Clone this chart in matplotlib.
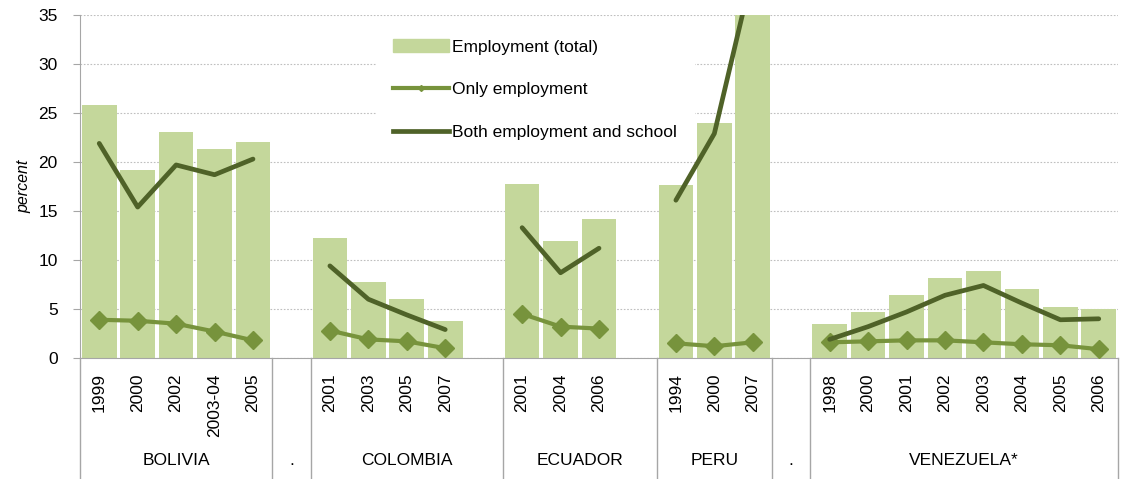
import numpy as np
import matplotlib.pyplot as plt
import matplotlib.transforms as mtransforms
from matplotlib.lines import Line2D
from matplotlib.patches import Patch

plt.rcParams['font.family'] = ['Liberation Sans', 'DejaVu Sans']

nan = np.nan

# groups along the x axis ('.' = empty spacer column)
group_names = ['BOLIVIA', '.', 'COLOMBIA', 'ECUADOR', 'PERU', '.', 'VENEZUELA*']
group_sizes = [5, 1, 5, 4, 3, 1, 8]

years = ['1999', '2000', '2002', '2003-04', '2005', '',
         '2001', '2003', '2005', '2007', '',
         '2001', '2004', '2006', '',
         '1994', '2000', '2007', '',
         '1998', '2000', '2001', '2002', '2003', '2004', '2005', '2006']

total_emp = [25.8, 19.2, 23.1, 21.3, 22.0, nan,
             12.2, 7.8, 6.0, 3.8, nan,
             17.8, 11.9, 14.2, nan,
             17.7, 24.0, 41.0, nan,
             3.5, 4.7, 6.4, 8.2, 8.9, 7.0, 5.2, 5.0]
only_emp = [3.9, 3.8, 3.5, 2.7, 1.8, nan,
            2.8, 1.9, 1.7, 1.0, nan,
            4.5, 3.2, 3.0, nan,
            1.5, 1.2, 1.6, nan,
            1.6, 1.7, 1.8, 1.8, 1.6, 1.4, 1.3, 0.9]
both_emp = [21.9, 15.4, 19.7, 18.7, 20.3, nan,
            9.4, 6.0, 4.4, 2.9, nan,
            13.3, 8.7, 11.2, nan,
            16.1, 22.9, 39.5, nan,
            1.9, 3.2, 4.7, 6.4, 7.4, 5.6, 3.9, 4.0]

bar_col = '#C4D79B'
only_col = '#77933C'
both_col = '#4F6228'
grey = '#A6A6A6'

W, H = 1124, 479
fig = plt.figure(figsize=(W / 100, H / 100), dpi=100)
ax = fig.add_axes([80 / W, (H - 358) / H, 1038 / W, 343 / H])

x = np.arange(len(years))
ax.bar(x, total_emp, width=0.9, color=bar_col, zorder=2)
ax.plot(x, only_emp, color=only_col, lw=3, marker='D', ms=9, zorder=3)
ax.plot(x, both_emp, color=both_col, lw=3.4, solid_capstyle='round', zorder=4)

ax.set_xlim(-0.5, len(years) - 0.5)
ax.set_ylim(0, 35)
ax.set_yticks(range(0, 36, 5))
ax.yaxis.grid(True, color='#BFBFBF', lw=0.8, ls=(0, (1.5, 1.5)), zorder=0)
ax.set_axisbelow(True)
ax.tick_params(axis='y', length=5, color=grey, pad=11, labelsize=12.5)
ax.set_xticks(x)
ax.set_xticklabels(years, rotation=90, fontsize=12.5)
ax.tick_params(axis='x', length=0, pad=11)
for s in ['top', 'right']:
    ax.spines[s].set_visible(False)
ax.spines['left'].set_color(grey)
ax.spines['bottom'].set_color(grey)
ax.set_ylabel('percent', fontstyle='italic', fontsize=11.5, labelpad=5)

# group separators and names below the axis
trans = mtransforms.blended_transform_factory(ax.transData, ax.transAxes)
edge = -0.5
ax.add_line(Line2D([edge, edge], [0, -0.36], transform=trans, color=grey, lw=1, clip_on=False))
for name, n in zip(group_names, group_sizes):
    ax.text(edge + n / 2, -0.30, name, transform=trans, ha='center', va='center', fontsize=12.5)
    edge += n
    ax.add_line(Line2D([edge, edge], [0, -0.36], transform=trans, color=grey, lw=1, clip_on=False))

handles = [Patch(color=bar_col),
           Line2D([], [], color=only_col, lw=3, marker='D', ms=3),
           Line2D([], [], color=both_col, lw=3.4)]
labels = ['Employment (total)', 'Only employment', 'Both employment and school']
leg = ax.legend(handles, labels, loc='upper left', bbox_to_anchor=(376 / W, 1 - 22 / H),
                bbox_transform=fig.transFigure, borderaxespad=0, borderpad=1.0,
                frameon=True, facecolor='white', edgecolor='none', framealpha=1,
                fontsize=12.5, handlelength=3.2, handletextpad=0.2, labelspacing=1.6,
                numpoints=1, fancybox=False)
leg.set_zorder(1)

fig.savefig('out.png', dpi=100)
